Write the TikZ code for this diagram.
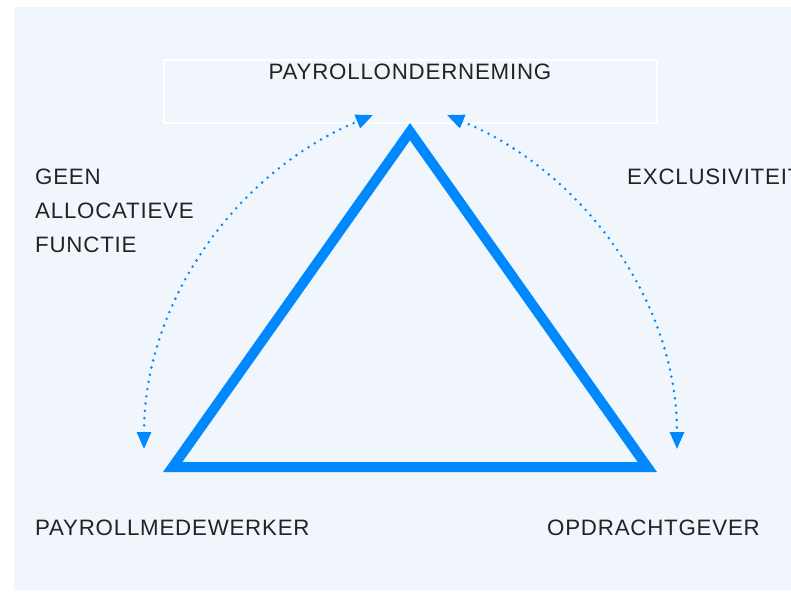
\documentclass[tikz,border=0pt]{standalone}
\usepackage{fontspec}
\setmainfont[LetterSpace=3.5]{Liberation Sans}
\usetikzlibrary{arrows.meta}
\definecolor{bgc}{HTML}{F1F5FC}
\definecolor{bluec}{HTML}{0088FF}
\definecolor{txtc}{HTML}{232323}
\tikzset{
  lbl/.style={inner sep=0pt, text=txtc, font=\fontsize{22.3pt}{34pt}\selectfont},
  dotarc/.style={bluec, line width=2.8pt, line cap=round, dash pattern=on 0pt off 7.3pt,
    {Triangle[length=17pt,width=14pt]}-{Triangle[length=17pt,width=14pt]}, looseness=0.93},
  tri/.style={bluec, line width=10pt, miter limit=10, line join=miter},
  frame/.style={draw=white, line width=2.5pt, inner sep=0pt, minimum width=493pt, minimum height=63pt}
}
\begin{document}
\begin{tikzpicture}[x=1pt,y=1pt]
\useasboundingbox (0,0) rectangle (791,-592);
\fill[bgc] (14,-7) rectangle (791,-590);
\node[frame] (box) at (410.5,-91.5) {};
\node[lbl, anchor=base] (boxlabel) at (410,-79) {PAYROLLONDERNEMING};
\coordinate (apex) at (410,-131.7);
\coordinate (bl) at (172.7,-467);
\coordinate (br) at (647.3,-467);
\draw[tri] (apex) -- (bl) -- (br) -- cycle;
\coordinate (lt) at (373,-115);
\coordinate (lb) at (144,-449);
\coordinate (rt) at (447,-115);
\coordinate (rb) at (677,-449);
\draw[dotarc] (lb) to[out=90,in=202.6] (lt);
\draw[dotarc] (rt) to[out=-22.6,in=90] (rb);
\node[lbl, anchor=base west, align=left] (geen) at (35,-252) {GEEN\\ALLOCATIEVE\\FUNCTIE};
\node[lbl, anchor=base west] (excl) at (627,-184) {EXCLUSIVITEIT};
\node[lbl, anchor=base west] (pm) at (35,-535) {PAYROLLMEDEWERKER};
\node[lbl, anchor=base west] (og) at (547,-535) {OPDRACHTGEVER};
\end{tikzpicture}
\end{document}
